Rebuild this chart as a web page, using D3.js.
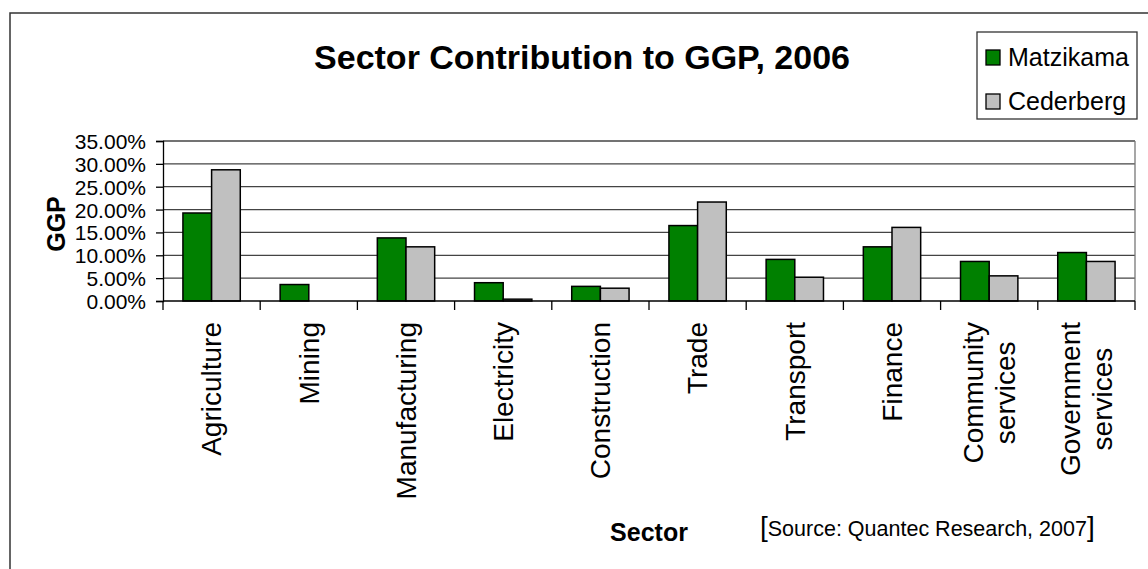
<!DOCTYPE html>
<html>
<head>
<meta charset="utf-8">
<script src="https://cdn.jsdelivr.net/npm/d3@7"></script>
<style>
  html, body { margin: 0; padding: 0; background: #fff; }
  svg { display: block; font-family: "Liberation Sans", Arial, sans-serif; }
</style>
</head>
<body>
<svg id="chart" width="1148" height="569"></svg>
<script>
// Sector shares of gross geographic product, 2006
const sectors = ["Agriculture", "Mining", "Manufacturing", "Electricity", "Construction",
  "Trade", "Transport", "Finance", "Community\nservices", "Government\nservices"];
const matzikama = [19.25, 3.6, 13.8, 4.0, 3.2, 16.5, 9.1, 11.85, 8.65, 10.6];
const cederberg = [28.7, 0, 11.85, 0.4, 2.8, 21.65, 5.2, 16.1, 5.5, 8.65];
const seriesNames = ["Matzikama", "Cederberg"];
const yTicks = [0, 5, 10, 15, 20, 25, 30, 35];

const FONT = "'Liberation Sans', Arial, sans-serif";
const colors = ["#008000", "#C0C0C0"];
const svg = d3.select("#chart");

// outer chart frame
svg.append("rect").attr("x", 10).attr("y", 13).attr("width", 1160).attr("height", 600)
  .attr("fill", "#fff").attr("stroke", "#333").attr("stroke-width", 1.5);

const plot = { left: 163, right: 1135, top: 141, bottom: 301 };

const x = d3.scaleBand().domain(sectors).range([plot.left, plot.right]).paddingInner(0.41).paddingOuter(0.205);
const xSub = d3.scaleBand().domain(seriesNames).range([0, x.bandwidth()]);
const y = d3.scaleLinear().domain([0, 35]).range([plot.bottom, plot.top]);

// gridlines
svg.append("g").selectAll("line").data(yTicks.slice(1)).join("line")
  .attr("x1", plot.left).attr("x2", plot.right)
  .attr("y1", d => y(d)).attr("y2", d => y(d))
  .attr("stroke", "#444").attr("stroke-width", 1.3);
// right plot border
svg.append("line").attr("x1", plot.right).attr("x2", plot.right)
  .attr("y1", plot.top).attr("y2", plot.bottom).attr("stroke", "#777").attr("stroke-width", 1.3);

// bars
const rows = sectors.map((s, i) => ({ s, v: [matzikama[i], cederberg[i]] }));
const groups = svg.append("g").selectAll("g").data(rows).join("g")
  .attr("transform", d => `translate(${x(d.s)},0)`);
groups.selectAll("rect").data(d => d.v.map((v, j) => ({ v, name: seriesNames[j], j })))
  .join("rect")
  .filter(d => d.v > 0)
  .attr("x", d => xSub(d.name))
  .attr("width", xSub.bandwidth())
  .attr("y", d => y(d.v))
  .attr("height", d => y(0) - y(d.v))
  .attr("fill", d => colors[d.j])
  .attr("stroke", "#000").attr("stroke-width", 1.5);

// y axis
const yAxis = d3.axisLeft(y).tickValues(yTicks).tickSize(7).tickPadding(10)
  .tickFormat(d => d.toFixed(2) + "%");
const gy = svg.append("g").attr("transform", `translate(${plot.left},0)`).call(yAxis);
gy.select(".domain").attr("stroke", "#000").attr("stroke-width", 1.3);
gy.selectAll(".tick line").attr("stroke", "#000").attr("stroke-width", 1.3);
gy.selectAll(".tick text").attr("font-size", 21).attr("fill", "#000")
  .attr("font-family", FONT).attr("dy", "0.36em");

// x axis: baseline with ticks at category boundaries
const step = (plot.right - plot.left) / sectors.length;
svg.append("line").attr("x1", plot.left).attr("x2", plot.right)
  .attr("y1", plot.bottom).attr("y2", plot.bottom).attr("stroke", "#000").attr("stroke-width", 1.5);
svg.append("g").selectAll("line").data(d3.range(sectors.length + 1)).join("line")
  .attr("x1", i => plot.left + i * step).attr("x2", i => plot.left + i * step)
  .attr("y1", plot.bottom).attr("y2", plot.bottom + 9)
  .attr("stroke", "#000").attr("stroke-width", 1.3);

// rotated category labels, lines centred on each other, longest line ending at labelTop
const labelTop = 322;
const lh = 32;
svg.append("g").selectAll("g").data(sectors).join("g").each(function (s) {
  const lines = s.split("\n");
  const g = d3.select(this);
  const cx = x(s) + x.bandwidth() / 2;
  const widths = lines.map(l => {
    const n = g.append("text").attr("font-size", 28).text(l);
    const w = n.node().getComputedTextLength();
    n.remove();
    return w;
  });
  const maxW = d3.max(widths);
  const n = lines.length;
  lines.forEach((l, k) => {
    const off = (k - (n - 1) / 2) * lh;
    g.append("text")
      .attr("font-size", 28).attr("fill", "#000")
      .attr("text-anchor", "middle").attr("dy", "0.35em")
      .attr("transform", `translate(${cx + off},${labelTop + maxW / 2}) rotate(-90)`)
      .text(l);
  });
});

// title
svg.append("text").attr("x", 582).attr("y", 69).attr("text-anchor", "middle")
  .attr("font-size", 34).attr("font-weight", "bold").attr("fill", "#000")
  .text("Sector Contribution to GGP, 2006");

// axis titles
svg.append("text").attr("transform", `translate(65,224) rotate(-90)`)
  .attr("text-anchor", "middle").attr("font-size", 25).attr("font-weight", "bold")
  .text("GGP");
svg.append("text").attr("x", 649).attr("y", 541).attr("text-anchor", "middle")
  .attr("font-size", 25).attr("font-weight", "bold").text("Sector");

// source note
const src = svg.append("text").attr("x", 760).attr("y", 536).attr("font-size", 21.5).attr("fill", "#000");
src.append("tspan").attr("font-size", 28).text("[");
src.append("tspan").text("Source: Quantec Research, 2007");
src.append("tspan").attr("font-size", 28).text("]");

// legend
const lg = svg.append("g");
lg.append("rect").attr("x", 977).attr("y", 32).attr("width", 160).attr("height", 87)
  .attr("fill", "#fff").attr("stroke", "#333").attr("stroke-width", 1.3);
seriesNames.forEach((name, i) => {
  lg.append("rect").attr("x", 986).attr("y", 50 + i * 44).attr("width", 14).attr("height", 15)
    .attr("fill", colors[i]).attr("stroke", "#000").attr("stroke-width", 1.3);
  lg.append("text").attr("x", 1008).attr("y", 66 + i * 44).attr("font-size", 25)
    .attr("fill", "#000").text(name);
});
</script>
</body>
</html>
